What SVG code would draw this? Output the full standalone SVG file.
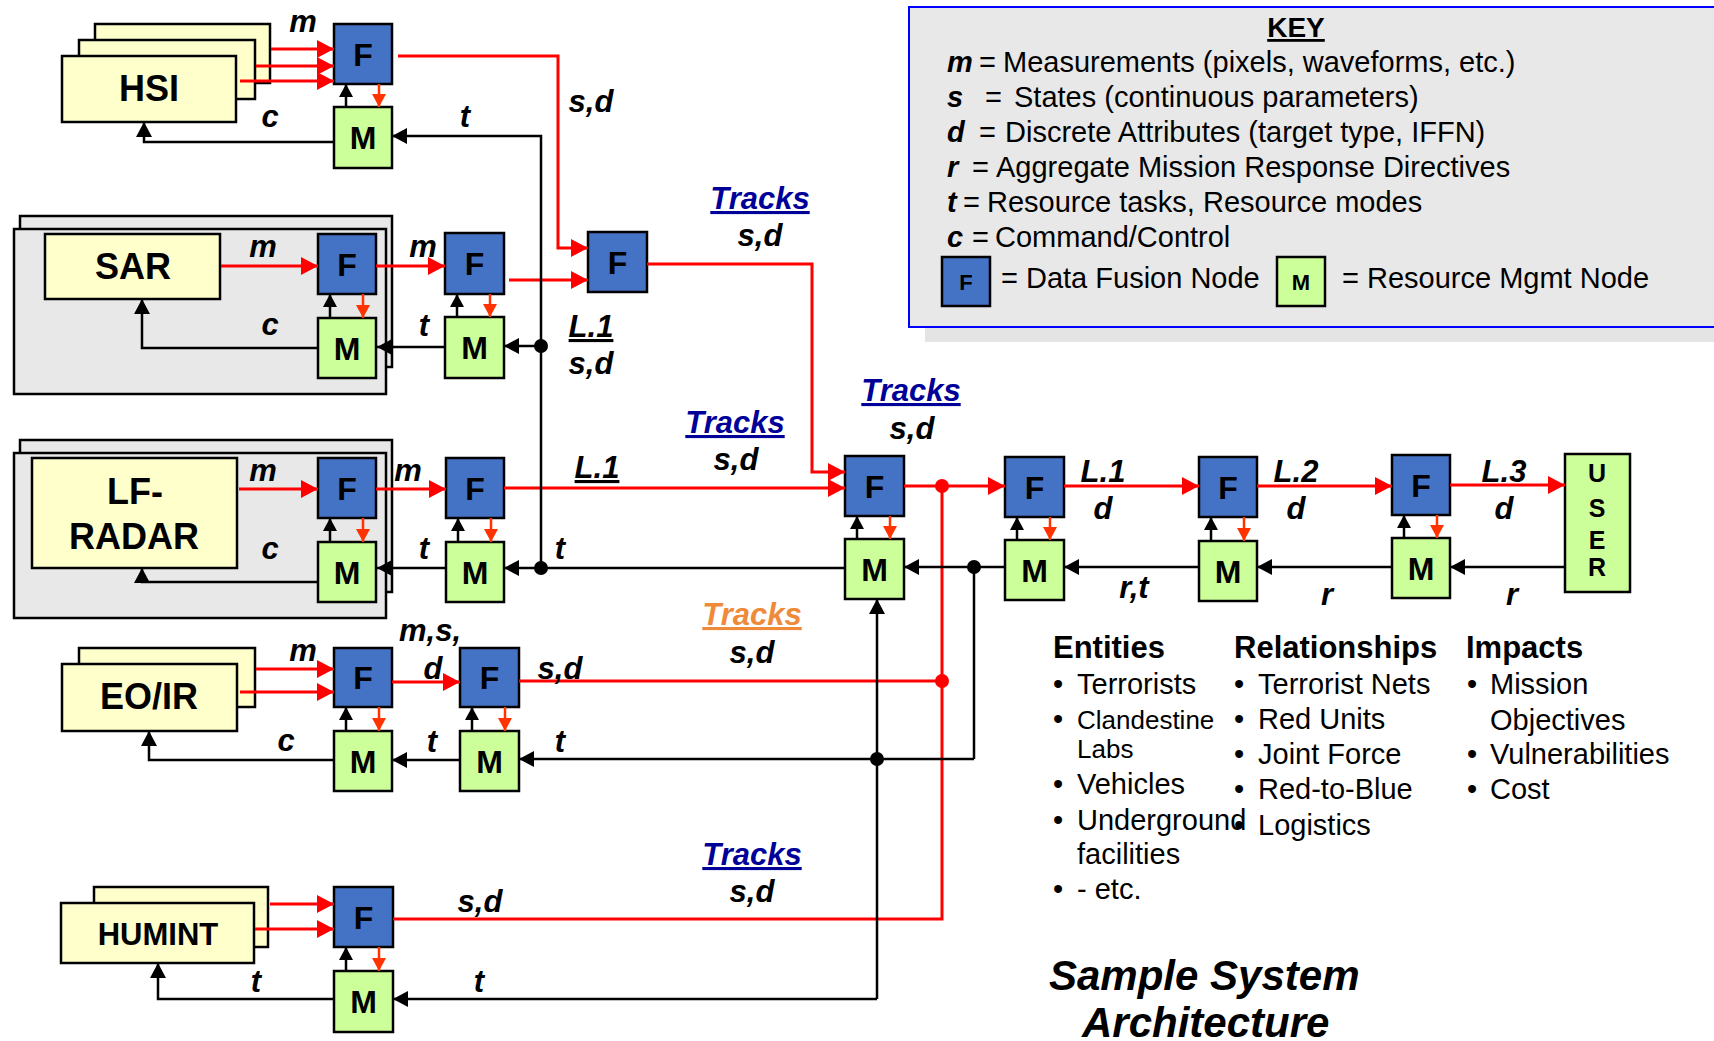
<svg xmlns="http://www.w3.org/2000/svg" width="1714" height="1041" viewBox="0 0 1714 1041">
<defs>
<style>
.f{fill:#4472c4;stroke:#000;stroke-width:2.5}
.m{fill:#ccff99;stroke:#000;stroke-width:2.5}
.s{fill:#ffffcc;stroke:#000;stroke-width:2.5}
.p{fill:#e8e8e8;stroke:#000;stroke-width:2.5}
.nl{font-family:"Liberation Sans",Arial,sans-serif;font-weight:bold;font-size:32px;text-anchor:middle}
.sn{font-family:"Liberation Sans",Arial,sans-serif;font-weight:bold;font-size:36px;text-anchor:middle}
.lb{font-family:"Liberation Sans",Arial,sans-serif;font-weight:bold;font-style:italic;font-size:31px;text-anchor:middle}
.ul{text-decoration:underline}
.tr{fill:#000099}
.to{fill:#ee8a3a}
.kt{font-family:"Liberation Sans",Arial,sans-serif;font-size:29px}
.bi{font-weight:bold;font-style:italic}
.hd{font-family:"Liberation Sans",Arial,sans-serif;font-weight:bold;font-size:31px}
.li{font-family:"Liberation Sans",Arial,sans-serif;font-size:29px}
.sm{font-size:26px}
.red{stroke:#ff0000;stroke-width:3;fill:none;marker-end:url(#ar)}
.redl{stroke:#ff0000;stroke-width:3;fill:none}
.blk{stroke:#000;stroke-width:2.5;fill:none;marker-end:url(#ak)}
.blkl{stroke:#000;stroke-width:2.5;fill:none}
.or{stroke:#ff3300;stroke-width:2.5;fill:none;marker-end:url(#ao)}
.up{stroke:#000;stroke-width:2.5;fill:none;marker-end:url(#as)}
</style>
<marker id="ar" markerUnits="userSpaceOnUse" markerWidth="18" markerHeight="18" refX="17" refY="9" orient="auto"><path d="M0,0 L17,9 L0,18 z" fill="#ff0000"/></marker>
<marker id="ak" markerUnits="userSpaceOnUse" markerWidth="16" markerHeight="16" refX="15" refY="8" orient="auto"><path d="M0,0 L15,8 L0,16 z" fill="#000"/></marker>
<marker id="ao" markerUnits="userSpaceOnUse" markerWidth="14" markerHeight="14" refX="13" refY="7" orient="auto"><path d="M0,0 L13,7 L0,14 z" fill="#ff3300"/></marker>
<marker id="as" markerUnits="userSpaceOnUse" markerWidth="14" markerHeight="14" refX="13" refY="7" orient="auto"><path d="M0,0 L13,7 L0,14 z" fill="#000"/></marker>
</defs>
<rect width="1714" height="1041" fill="#fff"/>

<!-- legend panel -->
<g id="key">
<rect x="925" y="20" width="800" height="322" fill="#e4e4e4"/>
<rect x="909" y="7" width="830" height="320" fill="#e8e8e8" stroke="#0000ff" stroke-width="2"/>
<text x="1296" y="37" font-family="Liberation Sans, Arial, sans-serif" font-weight="bold" font-size="28" text-anchor="middle" text-decoration="underline">KEY</text>
<text class="kt" y="72"><tspan x="947" class="bi">m</tspan><tspan x="979">=</tspan><tspan x="1003">Measurements (pixels, waveforms, etc.)</tspan></text>
<text class="kt" y="107"><tspan x="947" class="bi">s</tspan><tspan x="985">=</tspan><tspan x="1014">States (continuous parameters)</tspan></text>
<text class="kt" y="142"><tspan x="947" class="bi">d</tspan><tspan x="979">=</tspan><tspan x="1005">Discrete Attributes (target type, IFFN)</tspan></text>
<text class="kt" y="177"><tspan x="947" class="bi">r</tspan><tspan x="972">=</tspan><tspan x="996">Aggregate Mission Response Directives</tspan></text>
<text class="kt" y="212"><tspan x="947" class="bi">t</tspan><tspan x="963">=</tspan><tspan x="987">Resource tasks, Resource modes</tspan></text>
<text class="kt" y="247"><tspan x="947" class="bi">c</tspan><tspan x="972">=</tspan><tspan x="995">Command/Control</tspan></text>
<rect class="f" x="942" y="257" width="48" height="49"/>
<text x="966" y="290" font-family="Liberation Sans, Arial, sans-serif" font-weight="bold" font-size="22" text-anchor="middle">F</text>
<text class="kt" x="1001" y="288">= Data Fusion Node</text>
<rect class="m" x="1277" y="257" width="48" height="49"/>
<text x="1301" y="290" font-family="Liberation Sans, Arial, sans-serif" font-weight="bold" font-size="22" text-anchor="middle">M</text>
<text class="kt" x="1342" y="288">= Resource Mgmt Node</text>
</g>

<!-- sensor platforms -->
<g id="hsi">
<rect class="s" x="95" y="24" width="175" height="59"/>
<rect class="s" x="79" y="40" width="176" height="59"/>
<rect class="s" x="62" y="56" width="174" height="66"/>
<text class="sn" x="149" y="101">HSI</text>
</g>
<g id="sar">
<rect class="p" x="20" y="216" width="372" height="151"/>
<rect class="p" x="14" y="229" width="372" height="165"/>
<rect class="s" x="45" y="234" width="175" height="65"/>
<text class="sn" x="133" y="279">SAR</text>
</g>
<g id="lf-radar">
<rect class="p" x="20" y="440" width="372" height="152"/>
<rect class="p" x="14" y="453" width="372" height="165"/>
<rect class="s" x="32" y="458" width="205" height="110"/>
<text class="sn" x="135" y="504">LF-</text>
<text class="sn" x="134" y="549">RADAR</text>
</g>
<g id="eoir">
<rect class="s" x="79" y="648" width="176" height="59"/>
<rect class="s" x="62" y="664" width="175" height="67"/>
<text class="sn" x="149" y="709">EO/IR</text>
</g>
<g id="humint">
<rect class="s" x="94" y="887" width="174" height="60"/>
<rect class="s" x="61" y="903" width="193" height="60"/>
<text class="sn" x="158" y="945" style="font-size:31px">HUMINT</text>
</g>

<!-- fusion (F) and management (M) nodes -->
<g id="hsi-f"><rect class="f" x="334" y="24" width="58" height="60"/><text class="nl" x="363" y="66">F</text></g>
<g id="hsi-m"><rect class="m" x="334" y="107" width="58" height="61"/><text class="nl" x="363" y="149">M</text></g>
<g id="sar-f1"><rect class="f" x="318" y="234" width="58" height="60"/><text class="nl" x="347" y="276">F</text></g>
<g id="sar-m1"><rect class="m" x="318" y="318" width="58" height="60"/><text class="nl" x="347" y="360">M</text></g>
<g id="sar-f2"><rect class="f" x="445" y="233" width="59" height="61"/><text class="nl" x="474.5" y="275">F</text></g>
<g id="sar-m2"><rect class="m" x="445" y="317" width="59" height="61"/><text class="nl" x="474.5" y="359">M</text></g>
<g id="img-f"><rect class="f" x="588" y="232" width="59" height="60"/><text class="nl" x="617.5" y="274">F</text></g>
<g id="lf-f1"><rect class="f" x="318" y="458" width="58" height="60"/><text class="nl" x="347" y="500">F</text></g>
<g id="lf-m1"><rect class="m" x="318" y="542" width="58" height="60"/><text class="nl" x="347" y="584">M</text></g>
<g id="lf-f2"><rect class="f" x="446" y="458" width="58" height="60"/><text class="nl" x="475" y="500">F</text></g>
<g id="lf-m2"><rect class="m" x="446" y="542" width="58" height="60"/><text class="nl" x="475" y="584">M</text></g>
<g id="eo-f1"><rect class="f" x="334" y="648" width="58" height="59"/><text class="nl" x="363" y="689">F</text></g>
<g id="eo-m1"><rect class="m" x="334" y="731" width="58" height="60"/><text class="nl" x="363" y="773">M</text></g>
<g id="eo-f2"><rect class="f" x="460" y="648" width="59" height="59"/><text class="nl" x="489.5" y="689">F</text></g>
<g id="eo-m2"><rect class="m" x="460" y="731" width="59" height="60"/><text class="nl" x="489.5" y="773">M</text></g>
<g id="hum-f"><rect class="f" x="334" y="887" width="59" height="60"/><text class="nl" x="363.5" y="929">F</text></g>
<g id="hum-m"><rect class="m" x="334" y="971" width="59" height="61"/><text class="nl" x="363.5" y="1013">M</text></g>
<g id="c-f"><rect class="f" x="845" y="456" width="59" height="60"/><text class="nl" x="874.5" y="498">F</text></g>
<g id="c-m"><rect class="m" x="845" y="539" width="59" height="60"/><text class="nl" x="874.5" y="581">M</text></g>
<g id="l1-f"><rect class="f" x="1005" y="457" width="59" height="60"/><text class="nl" x="1034.5" y="499">F</text></g>
<g id="l1-m"><rect class="m" x="1005" y="540" width="59" height="60"/><text class="nl" x="1034.5" y="582">M</text></g>
<g id="l2-f"><rect class="f" x="1199" y="457" width="58" height="60"/><text class="nl" x="1228" y="499">F</text></g>
<g id="l2-m"><rect class="m" x="1199" y="541" width="58" height="60"/><text class="nl" x="1228" y="583">M</text></g>
<g id="l3-f"><rect class="f" x="1392" y="455" width="58" height="60"/><text class="nl" x="1421" y="497">F</text></g>
<g id="l3-m"><rect class="m" x="1392" y="538" width="58" height="60"/><text class="nl" x="1421" y="580">M</text></g>
<g id="user">
<rect class="m" x="1565" y="454" width="65" height="138"/>
<g font-family="Liberation Sans, Arial, sans-serif" font-weight="bold" font-size="25" text-anchor="middle">
<text x="1597" y="482">U</text><text x="1597" y="517">S</text><text x="1597" y="549">E</text><text x="1597" y="576">R</text>
</g>
</g>

<!-- connectors -->
<g id="connectors">
<!-- F/M pair links -->
<path class="or" d="M379,84 V107"/><path class="up" d="M346,107 V84"/>
<path class="or" d="M363,294 V318"/><path class="up" d="M330,318 V294"/>
<path class="or" d="M490,294 V317"/><path class="up" d="M457,317 V294"/>
<path class="or" d="M363,518 V542"/><path class="up" d="M330,542 V518"/>
<path class="or" d="M491,518 V542"/><path class="up" d="M458,542 V518"/>
<path class="or" d="M379,707 V731"/><path class="up" d="M346,731 V707"/>
<path class="or" d="M505,707 V731"/><path class="up" d="M472,731 V707"/>
<path class="or" d="M379,947 V971"/><path class="up" d="M346,971 V947"/>
<path class="or" d="M890,516 V539"/><path class="up" d="M857,539 V516"/>
<path class="or" d="M1050,517 V540"/><path class="up" d="M1017,540 V517"/>
<path class="or" d="M1244,517 V541"/><path class="up" d="M1211,541 V517"/>
<path class="or" d="M1437,515 V538"/><path class="up" d="M1404,538 V515"/>

<!-- measurements into first-level fusion -->
<path class="red" d="M271,49 H334"/>
<path class="red" d="M256,66 H334"/>
<path class="red" d="M240,81 H334"/>
<path class="red" d="M221,266 H318"/>
<path class="red" d="M376,266 H445"/>
<path class="red" d="M239,489 H318"/>
<path class="red" d="M376,489 H446"/>
<path class="red" d="M256,669 H334"/>
<path class="red" d="M240,692 H334"/>
<path class="red" d="M392,682 H460"/>
<path class="red" d="M270,904 H334"/>
<path class="red" d="M255,929 H334"/>

<!-- tracks toward the central fusion node -->
<path class="red" d="M398,56 H558 V248 H588"/>
<path class="red" d="M509,280 H588"/>
<path class="red" d="M647,264 H812 V472 H845"/>
<path class="red" d="M504,488 H845"/>
<path class="redl" d="M519,681 H942"/>
<path class="redl" d="M393,919 H942 V486"/>
<path class="red" d="M904,486 H1005"/>
<path class="red" d="M1064,486 H1199"/>
<path class="red" d="M1257,486 H1392"/>
<path class="red" d="M1450,485 H1565"/>
<circle cx="942" cy="486" r="7" fill="#ff0000"/>
<circle cx="942" cy="681" r="7" fill="#ff0000"/>

<!-- tasking and control -->
<path class="blk" d="M1565,567 H1450"/>
<path class="blk" d="M1392,567 H1257"/>
<path class="blk" d="M1199,567 H1064"/>
<path class="blk" d="M1005,567 H904"/>
<path class="blkl" d="M974,567 V759"/>
<path class="blk" d="M974,759 H519"/>
<path class="blk" d="M877,999 V599"/>
<path class="blk" d="M877,999 H393"/>
<path class="blk" d="M845,568 H504"/>
<path class="blk" d="M541,568 V136 H392"/>
<path class="blk" d="M541,346 H504"/>
<path class="blk" d="M445,347 H377"/>
<path class="blk" d="M446,568 H377"/>
<path class="blk" d="M460,760 H392"/>
<path class="blk" d="M334,142 H144 V122"/>
<path class="blk" d="M318,348 H142 V299"/>
<path class="blk" d="M318,582 H142 V568"/>
<path class="blk" d="M334,760 H149 V731"/>
<path class="blk" d="M334,999 H158 V963"/>
<circle cx="541" cy="346" r="7"/>
<circle cx="541" cy="568" r="7"/>
<circle cx="974" cy="567" r="7"/>
<circle cx="877" cy="759" r="7"/>
</g>

<!-- connector labels -->
<g id="labels">
<text class="lb" x="303" y="32">m</text>
<text class="lb" x="270" y="127">c</text>
<text class="lb" x="465" y="127">t</text>
<text class="lb" x="591" y="112">s,d</text>
<text class="lb tr ul" x="760" y="209">Tracks</text>
<text class="lb" x="760" y="246">s,d</text>
<text class="lb" x="263" y="257">m</text>
<text class="lb" x="423" y="257">m</text>
<text class="lb" x="270" y="335">c</text>
<text class="lb" x="424" y="336">t</text>
<text class="lb ul" x="591" y="337">L.1</text>
<text class="lb" x="591" y="374">s,d</text>
<text class="lb tr ul" x="735" y="433">Tracks</text>
<text class="lb" x="736" y="470">s,d</text>
<text class="lb tr ul" x="911" y="401">Tracks</text>
<text class="lb" x="912" y="439">s,d</text>
<text class="lb" x="263" y="481">m</text>
<text class="lb" x="408" y="481">m</text>
<text class="lb" x="270" y="559">c</text>
<text class="lb" x="424" y="559">t</text>
<text class="lb" x="560" y="559">t</text>
<text class="lb ul" x="597" y="478">L.1</text>
<text class="lb" x="303" y="661">m</text>
<text class="lb" x="430" y="641">m,s,</text>
<text class="lb" x="433" y="679">d</text>
<text class="lb" x="560" y="679">s,d</text>
<text class="lb to ul" x="752" y="625">Tracks</text>
<text class="lb" x="752" y="663">s,d</text>
<text class="lb" x="286" y="751">c</text>
<text class="lb" x="432" y="752">t</text>
<text class="lb" x="560" y="752">t</text>
<text class="lb" x="480" y="912">s,d</text>
<text class="lb tr ul" x="752" y="865">Tracks</text>
<text class="lb" x="752" y="902">s,d</text>
<text class="lb" x="256" y="992">t</text>
<text class="lb" x="479" y="992">t</text>
<text class="lb" x="1103" y="482">L.1</text>
<text class="lb" x="1103" y="519">d</text>
<text class="lb" x="1296" y="482">L.2</text>
<text class="lb" x="1296" y="519">d</text>
<text class="lb" x="1504" y="482">L.3</text>
<text class="lb" x="1504" y="519">d</text>
<text class="lb" x="1134" y="598">r,t</text>
<text class="lb" x="1327" y="605">r</text>
<text class="lb" x="1512" y="605">r</text>
</g>

<!-- situation and impact lists -->
<g id="lists">
<text class="hd" x="1053" y="658">Entities</text>
<g class="li">
<text x="1053" y="694">•</text><text x="1077" y="694">Terrorists</text>
<text x="1053" y="729">•</text><text x="1077" y="729" class="sm">Clandestine</text>
<text x="1077" y="758" class="sm">Labs</text>
<text x="1053" y="794">•</text><text x="1077" y="794">Vehicles</text>
<text x="1053" y="830">•</text><text x="1077" y="830">Underground</text>
<text x="1077" y="864">facilities</text>
<text x="1053" y="899">•</text><text x="1077" y="899">- etc.</text>
</g>
<text class="hd" x="1234" y="658">Relationships</text>
<g class="li">
<text x="1234" y="694">•</text><text x="1258" y="694">Terrorist Nets</text>
<text x="1234" y="729">•</text><text x="1258" y="729">Red Units</text>
<text x="1234" y="764">•</text><text x="1258" y="764">Joint Force</text>
<text x="1234" y="799">•</text><text x="1258" y="799">Red-to-Blue</text>
<text x="1234" y="835">•</text><text x="1258" y="835">Logistics</text>
</g>
<text class="hd" x="1466" y="658">Impacts</text>
<g class="li">
<text x="1467" y="694">•</text><text x="1490" y="694">Mission</text>
<text x="1490" y="730">Objectives</text>
<text x="1467" y="764">•</text><text x="1490" y="764">Vulnerabilities</text>
<text x="1467" y="799">•</text><text x="1490" y="799">Cost</text>
</g>
</g>

<g id="title" font-family="Liberation Sans, Arial, sans-serif" font-weight="bold" font-style="italic" font-size="42">
<text x="1049" y="990">Sample System</text>
<text x="1082" y="1037">Architecture</text>
</g>
</svg>
